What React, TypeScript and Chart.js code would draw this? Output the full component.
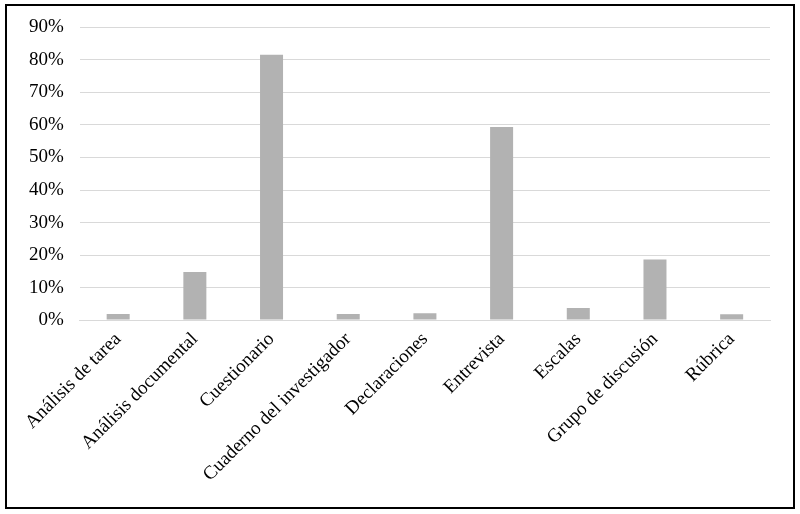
import React, { useEffect, useRef } from "react";
import { Chart, registerables } from "chart.js";

Chart.register(...registerables);

const categories = [
  "Análisis de tarea",
  "Análisis documental",
  "Cuestionario",
  "Cuaderno del investigador",
  "Declaraciones",
  "Entrevista",
  "Escalas",
  "Grupo de discusión",
  "Rúbrica",
];
const values = [1.9, 14.8, 81.6, 1.9, 2.1, 59.4, 3.7, 18.6, 1.8];
const yTicks = [0, 10, 20, 30, 40, 50, 60, 70, 80, 90];

export default function App() {
  const ref = useRef<HTMLCanvasElement>(null);
  useEffect(() => {
    const font = { family: "'Liberation Serif', 'Times New Roman', serif", size: 19 };
    const chart = new Chart(ref.current!, {
      type: "bar",
      data: {
        labels: categories,
        datasets: [
          {
            data: values,
            backgroundColor: "#b2b2b2",
            borderWidth: 0,
            barPercentage: 0.3,
            categoryPercentage: 1,
          },
        ],
      },
      options: {
        animation: false,
        responsive: false,
        maintainAspectRatio: false,
        layout: { padding: { left: 13, right: 30, top: 20, bottom: 20 } },
        plugins: { legend: { display: false }, tooltip: { enabled: false } },
        scales: {
          x: {
            grid: { display: false, drawTicks: false },
            border: { display: true, color: "#d9d9d9", width: 1 },
            ticks: {
              color: "#000",
              font,
              minRotation: 45,
              maxRotation: 45,
              padding: 8,
              autoSkip: false,
            },
          },
          y: {
            min: 0,
            max: 90,
            afterBuildTicks: (axis: any) => {
              axis.ticks = yTicks.map((v) => ({ value: v }));
            },
            grid: { color: "#d9d9d9", lineWidth: 1, drawTicks: false },
            border: { display: false },
            ticks: {
              color: "#000",
              font,
              padding: 16,
              callback: (v: any) => v + "%",
            },
          },
        },
      },
    });
    return () => chart.destroy();
  }, []);
  return (
    <div style={{ position: "fixed", left: 0, top: 0, width: 800, height: 514, background: "#fff" }}>
      <canvas ref={ref} width={800} height={514} style={{ display: "block", width: 800, height: 514 }} />
      <div
        style={{
          position: "absolute",
          left: 5,
          top: 4,
          width: 790,
          height: 505,
          boxSizing: "border-box",
          border: "2px solid #000",
          pointerEvents: "none",
        }}
      />
    </div>
  );
}
